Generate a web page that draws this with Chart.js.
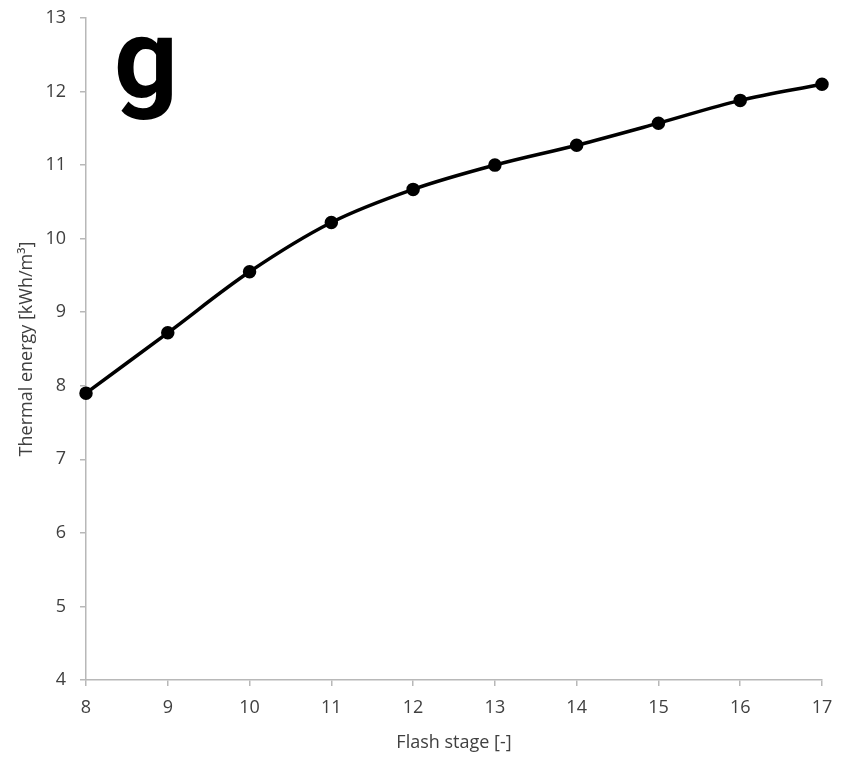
<!DOCTYPE html>
<html>
<head>
<meta charset="utf-8">
<script src="https://cdn.jsdelivr.net/npm/chart.js@4/dist/chart.umd.min.js"></script>
<style>
  html, body { margin: 0; padding: 0; background: #fff; }
  #wrap { width: 850px; height: 762px; }
</style>
</head>
<body>
<div id="wrap"><canvas id="thermal"></canvas></div>
<script>
// Data
var stages = [8, 9, 10, 11, 12, 13, 14, 15, 16, 17];
var energy = [7.90, 8.72, 9.55, 10.22, 10.67, 11.00, 11.27, 11.57, 11.88, 12.10];
var panelLetter = 'g';

var axisGrey = '#b8b8b8';
var textGrey = '#404040';
var fontFamily = '"Open Sans", "DejaVu Sans", sans-serif';

// Big panel letter in the top left corner of the plot
var letterPlugin = {
    id: 'panelLetter',
    afterDraw: function (chart) {
        var ctx = chart.ctx;
        ctx.save();
        ctx.fillStyle = '#000';
        ctx.font = 'bold 112px Roboto, "Liberation Sans", sans-serif';
        ctx.textBaseline = 'alphabetic';
        ctx.fillText(panelLetter, 114, 97);
        ctx.restore();
    }
};

document.addEventListener('DOMContentLoaded', function () {
    var points = stages.map(function (s, i) { return { x: s, y: energy[i] }; });

    var ctx = document.getElementById('thermal').getContext('2d');
    new Chart(ctx, {
        type: 'line',
        data: {
            datasets: [{
                data: points,
                borderColor: '#000',
                backgroundColor: '#000',
                borderWidth: 3.5,
                pointRadius: 5,
                pointHoverRadius: 5,
                tension: 0.35,
                clip: false
            }]
        },
        options: {
            responsive: true,
            maintainAspectRatio: false,
            animation: false,
            layout: { padding: { top: 18, right: 28, left: 0, bottom: 0 } },
            plugins: {
                legend: { display: false },
                tooltip: { enabled: false }
            },
            scales: {
                x: {
                    type: 'linear',
                    min: 8,
                    max: 17,
                    ticks: { stepSize: 1, color: textGrey, font: { family: fontFamily, size: 18 }, padding: 11 },
                    grid: { drawOnChartArea: false, color: axisGrey, tickLength: 6, lineWidth: 1.5 },
                    border: { color: axisGrey, width: 1.5 },
                    title: {
                        display: true,
                        text: 'Flash stage [-]',
                        color: textGrey,
                        font: { family: fontFamily, size: 18 },
                        padding: { top: 0, bottom: 8 }
                    },
                    afterFit: function (scale) {
                        scale.height = 82;
                        scale.paddingLeft = 0;
                        scale.paddingRight = 0;
                    }
                },
                y: {
                    min: 4,
                    max: 13,
                    ticks: { stepSize: 1, color: textGrey, font: { family: fontFamily, size: 18 }, padding: 14 },
                    grid: { drawOnChartArea: false, color: axisGrey, tickLength: 6, lineWidth: 1.5 },
                    border: { color: axisGrey, width: 1.5 },
                    title: {
                        display: true,
                        text: 'Thermal energy [kWh/m³]',
                        color: textGrey,
                        font: { family: fontFamily, size: 18 },
                        padding: { top: 16, bottom: 0 }
                    },
                    afterFit: function (scale) {
                        scale.width = 86;
                        scale.paddingTop = 0;
                        scale.paddingBottom = 0;
                    }
                }
            }
        },
        plugins: [letterPlugin]
    });
});
</script>
</body>
</html>
